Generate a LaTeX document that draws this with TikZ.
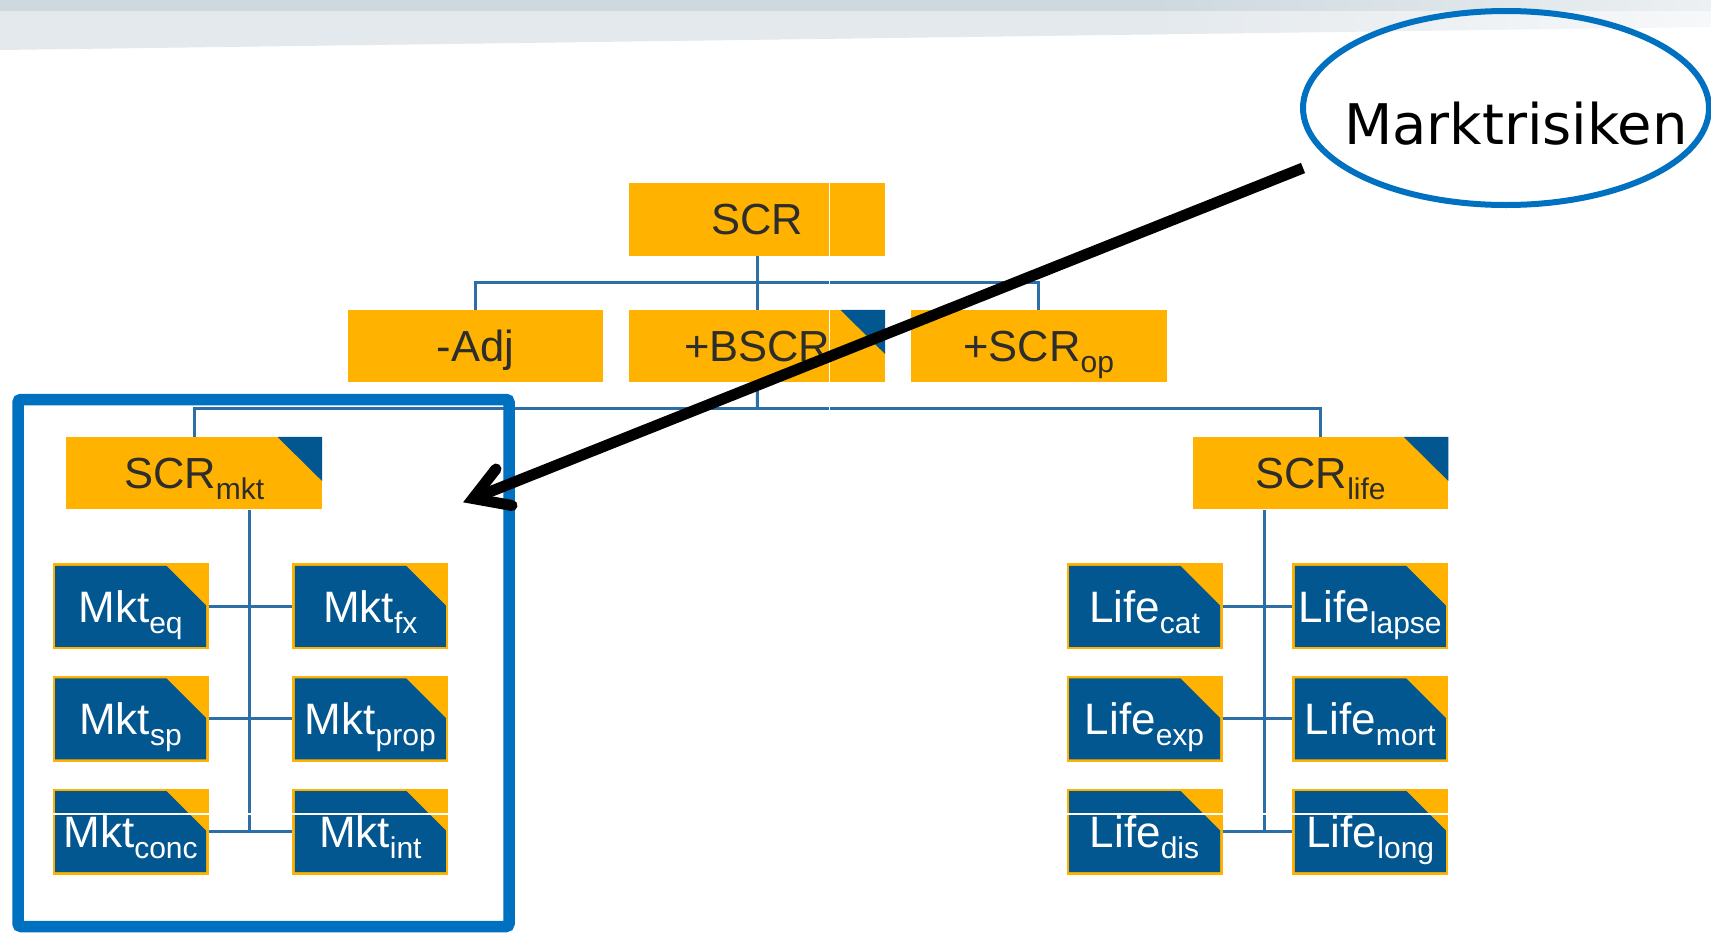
\documentclass[tikz,border=0pt]{standalone}
\usepackage{fontspec}
\setmainfont{Liberation Sans}
\newfontfamily\dejavu{DejaVu Sans}
\usetikzlibrary{shapes.geometric}
\definecolor{sorange}{RGB}{255,178,0}
\definecolor{bblue}{RGB}{2,87,145}
\definecolor{tgray}{RGB}{45,45,45}
\definecolor{cblue}{RGB}{44,110,165}
\definecolor{fblue}{RGB}{0,112,192}
\definecolor{hdark}{RGB}{205,216,223}
\definecolor{hdarkR}{RGB}{236,240,242}
\definecolor{hlight}{RGB}{228,233,237}
\definecolor{hlightR}{RGB}{246,248,249}
\newcommand\lsub[1]{\raisebox{-11pt}{\fontsize{30pt}{30pt}\selectfont #1}}
\tikzset{
  obox/.style={rectangle, fill=sorange, minimum width=255.6pt, minimum height=72.5pt,
    inner sep=0pt, text=tgray, font=\fontsize{43.5pt}{43.5pt}\selectfont,
    text height=31pt, text depth=0pt},
  otri/.style={path picture={\fill[bblue]
    ([xshift=-44.5pt]path picture bounding box.north east) --
    (path picture bounding box.north east) --
    ([yshift=-44pt]path picture bounding box.north east) -- cycle;}},
  bbox/.style={rectangle, fill=sorange, minimum width=156pt, minimum height=86pt,
    inner sep=0pt, text=white, font=\fontsize{44pt}{44pt}\selectfont,
    text height=31.5pt, text depth=0pt,
    path picture={\fill[bblue]
      ([shift={(2.5pt,-2.5pt)}]path picture bounding box.north west) --
      ([shift={(-42pt,-2.5pt)}]path picture bounding box.north east) --
      ([shift={(-2.5pt,-42pt)}]path picture bounding box.north east) --
      ([shift={(-2.5pt,2.5pt)}]path picture bounding box.south east) --
      ([shift={(2.5pt,2.5pt)}]path picture bounding box.south west) -- cycle;}},
  conn/.style={draw=cblue, line width=3pt},
  seam/.style={draw=white, line width=1.3pt},
  arrowline/.style={draw=black, line width=11pt},
}
\begin{document}
\begin{tikzpicture}[x=1pt,y=-1pt]
\clip (0,0) rectangle (1711,932);
\fill[white] (0,0) rectangle (1711,932);
% header band
\fill[hdark] (0,0) rectangle (1150,11);
\shade[left color=hdark, right color=hdarkR] (1150,0) rectangle (1711,11);
\fill[hlight] (0,11) -- (1150,11) -- (1150,34.5) -- (0,50) -- cycle;
\shade[left color=hlight, right color=hlightR] (1150,11) -- (1711,11) -- (1711,27) -- (1150,34.5) -- cycle;

% top level boxes
\node[obox] (scr) at (757.2,219.4) {SCR};
\node[obox] (adj) at (475.5,346.2) {-Adj};
\node[obox, otri] (bscr) at (757.2,346.2) {+BSCR};
\node[obox] (scrop) at (1038.8,346.2) {+SCR\lsub{op}};
\node[obox, otri] (scrmkt) at (194.2,473.2) {SCR\lsub{mkt}};
\node[obox, otri] (scrlife) at (1320.5,473.2) {SCR\lsub{life}};

% market boxes
\node[bbox] (mkteq) at (130.5,606.4) {Mkt\lsub{eq}};
\node[bbox] (mktfx) at (370.3,606.4) {Mkt\lsub{fx}};
\node[bbox] (mktsp) at (130.5,718.9) {Mkt\lsub{sp}};
\node[bbox] (mktprop) at (370.3,718.9) {Mkt\lsub{prop}};
\node[bbox] (mktconc) at (130.5,831.5) {Mkt\lsub{conc}};
\node[bbox] (mktint) at (370.3,831.5) {Mkt\lsub{int}};

% life boxes
\node[bbox] (lifecat) at (1144.5,606.4) {Life\lsub{cat}};
\node[bbox] (lifelapse) at (1370.3,606.4) {Life\lsub{lapse}};
\node[bbox] (lifeexp) at (1144.5,718.9) {Life\lsub{exp}};
\node[bbox] (lifemort) at (1370.3,718.9) {Life\lsub{mort}};
\node[bbox] (lifedis) at (1144.5,831.5) {Life\lsub{dis}};
\node[bbox] (lifelong) at (1370.3,831.5) {Life\lsub{long}};

% connectors
\coordinate (hubA) at (757.5,282.7);
\coordinate (hubB) at (757.5,408.3);
\coordinate (mktend) at (249.5,831.5);
\coordinate (lifeend) at (1264.3,831.5);
\draw[conn] (scr.south) -- (bscr.north);
\draw[conn] (adj.north) |- (hubA) -| (scrop.north);
\draw[conn] (bscr.south) -- (hubB);
\draw[conn] (scrmkt.north) |- (hubB) -| (scrlife.north);
\draw[conn] (scrmkt.south -| mktend) -- (mktend);
\draw[conn] (mkteq.east) -- (mktfx.west);
\draw[conn] (mktsp.east) -- (mktprop.west);
\draw[conn] (mktconc.east) -- (mktint.west);
\draw[conn] (scrlife.south -| lifeend) -- (lifeend);
\draw[conn] (lifecat.east) -- (lifelapse.west);
\draw[conn] (lifeexp.east) -- (lifemort.west);
\draw[conn] (lifedis.east) -- (lifelong.west);

% rendering seams
\draw[seam] (829.5,182) -- (829.5,411);
\draw[seam] (45,814) -- (1455,814);

% highlight frame
\node[draw=fblue, line width=11.5pt, rounded corners=3pt, minimum width=491pt,
  minimum height=527pt, inner sep=0pt] (frame) at (263.5,663) {};

% callout
\node[draw=fblue, line width=6pt, ellipse, minimum width=406pt, minimum height=194pt,
  inner sep=0pt] (callout) at (1506,108) {};
\node[font=\dejavu\fontsize{56pt}{56pt}\selectfont, text=black, inner sep=0pt,
  text height=40.8pt, text depth=0pt] (calltext) at (1516,124.5) {Marktrisiken};

% arrow
\coordinate (astart) at (1303,168);
\coordinate (atip) at (473,498.5);
\coordinate (barbA) at (496,469);
\coordinate (barbB) at (512,505.5);
\draw[arrowline] (astart) -- (atip);
\draw[arrowline, line cap=round, line join=miter] (barbA) -- (atip) -- (barbB);
\end{tikzpicture}
\end{document}
